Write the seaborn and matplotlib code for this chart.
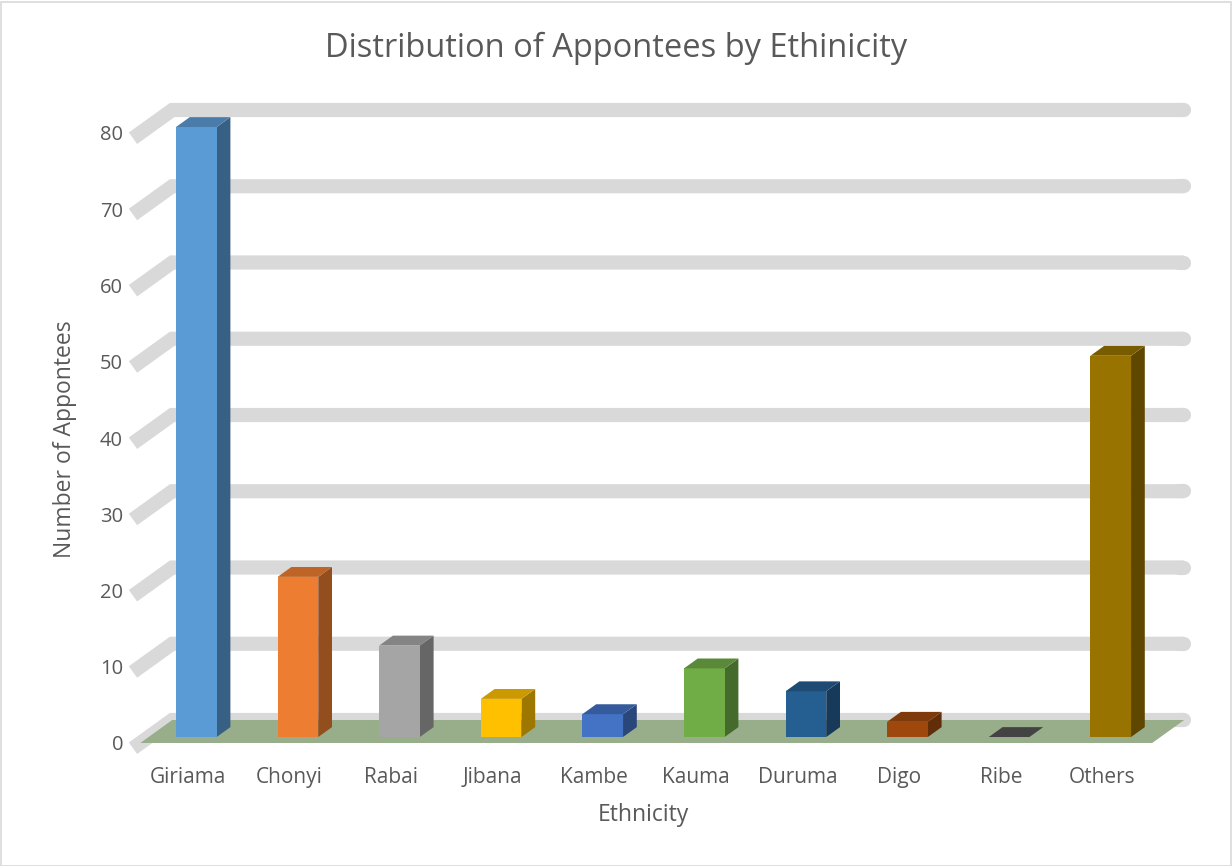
import matplotlib
matplotlib.use("Agg")
import matplotlib.pyplot as plt
import matplotlib.colors as mcolors
from matplotlib.patches import Polygon, Rectangle
import seaborn as sns
import pandas as pd

# ---- data ----
categories = ["Giriama", "Chonyi", "Rabai", "Jibana", "Kambe", "Kauma",
              "Duruma", "Digo", "Ribe", "Others"]
counts = [80, 21, 12, 5, 3, 9, 6, 2, 0, 50]
bar_colors = ["#5B9BD5", "#ED7D31", "#A5A5A5", "#FFC000", "#4472C4", "#70AD47",
              "#255E91", "#9E480E", "#636363", "#997300"]
y_ticks = [0, 10, 20, 30, 40, 50, 60, 70, 80]
title = "Distribution of Appontees by Ethinicity"
x_label = "Ethnicity"
y_label = "Number of Appontees"

TEXT = "#595959"
GRID = "#D9D9D9"
FLOOR = "#98AE8A"

sns.set_theme(style="white")
plt.rcParams["font.family"] = ["Open Sans", "DejaVu Sans"]

fig = plt.figure(figsize=(12.32, 8.66), dpi=100)
W, H = 1232, 866
left_px, right_px, top_px, bot_px = 130, 1195, 95, 743
ax = fig.add_axes([left_px / W, (H - bot_px) / H, (right_px - left_px) / W, (bot_px - top_px) / H])

df = pd.DataFrame({"Ethnicity": categories, "Count": counts})
sns.barplot(data=df, x="Ethnicity", y="Count", hue="Ethnicity",
            palette=dict(zip(categories, bar_colors)), width=0.4,
            saturation=1, legend=False, ax=ax, zorder=4)

px_cat, px_unit = 101.6, 7.625
x0 = (left_px - 188) / px_cat
ax.set_xlim(x0, x0 + (right_px - left_px) / px_cat)
ax.set_ylim(0, (bot_px - top_px) / px_unit)

DX, DY = 32 / px_cat, 23 / px_unit
n = len(categories)
fl, fr = -0.47, n - 1 + 0.49

# gridlines (left wall + back wall)
ext = 9.0
sx, sy = -DX * ext / 39.6, -DY * ext / 39.6
for v in y_ticks:
    ax.plot([fl + sx, fl + DX, fr + DX], [v + sy, v + DY, v + DY], color=GRID, lw=10.2,
            solid_capstyle="butt", solid_joinstyle="miter", zorder=1, clip_on=False)
    ax.plot([fr + DX - 0.05, fr + DX], [v + DY, v + DY], color=GRID, lw=10.2,
            solid_capstyle="round", zorder=1, clip_on=False)

# floor
ax.add_patch(Polygon([(fl, 0), (fr, 0), (fr + DX, DY), (fl + DX, DY)], closed=True,
                     facecolor=FLOOR, edgecolor="none", zorder=2, clip_on=False))

def shade(c, f):
    r, g, b = mcolors.to_rgb(c)
    return (r * f, g * f, b * f)

d0, dd = 0.26, 0.43
ox, oy = d0 * DX, d0 * DY
bx, by = dd * DX, dd * DY
for p in list(ax.patches):
    if not isinstance(p, Rectangle):
        continue
    idx = int(round(p.get_x() + p.get_width() / 2))
    if idx < 0 or idx >= n:
        continue
    c = bar_colors[idx]
    p.set_x(p.get_x() + ox)
    p.set_y(p.get_y() + oy)
    p.set_edgecolor("none")
    p.set_clip_on(False)
    xl, w = p.get_x(), p.get_width()
    yb, h = p.get_y(), p.get_height()
    xr, yt = xl + w, yb + h
    ax.add_patch(Polygon([(xr, yb), (xr + bx, yb + by), (xr + bx, yt + by), (xr, yt)],
                         closed=True, facecolor=shade(c, 0.62), edgecolor="none",
                         zorder=3, clip_on=False))
    topf = 0.8 if h > 0 else 0.68
    ax.add_patch(Polygon([(xl, yt), (xr, yt), (xr + bx, yt + by), (xl + bx, yt + by)],
                         closed=True, facecolor=shade(c, topf), edgecolor="none",
                         zorder=5, clip_on=False))

for s in ax.spines.values():
    s.set_visible(False)
ax.set_facecolor("none")
ax.set_yticks(y_ticks)
ax.set_yticklabels([str(t) for t in y_ticks], fontsize=14.5, color=TEXT)
ax.set_xticks(range(n))
ax.set_xticklabels(categories, fontsize=15, color=TEXT)
ax.tick_params(axis="y", length=0, pad=5)
ax.tick_params(axis="x", length=0, pad=17)
ax.set_xlabel("")
ax.set_ylabel("")

fig.text(643 / W, 1 - 815 / H, x_label, ha="center", va="center", fontsize=16.5, color=TEXT)
fig.text(65 / W, 1 - 439 / H, y_label, ha="center", va="center", rotation=90,
         fontsize=16.5, color=TEXT)
fig.text(616 / W, 1 - 48 / H, title, ha="center", va="center", fontsize=23.5, color=TEXT)

fig.patches.append(Rectangle((0.5 / W, 0.5 / H), 1 - 2 / W, 1 - 2 / H, transform=fig.transFigure,
                             fill=False, edgecolor=GRID, lw=1.2))

fig.savefig("out.png", dpi=100, facecolor="white")
